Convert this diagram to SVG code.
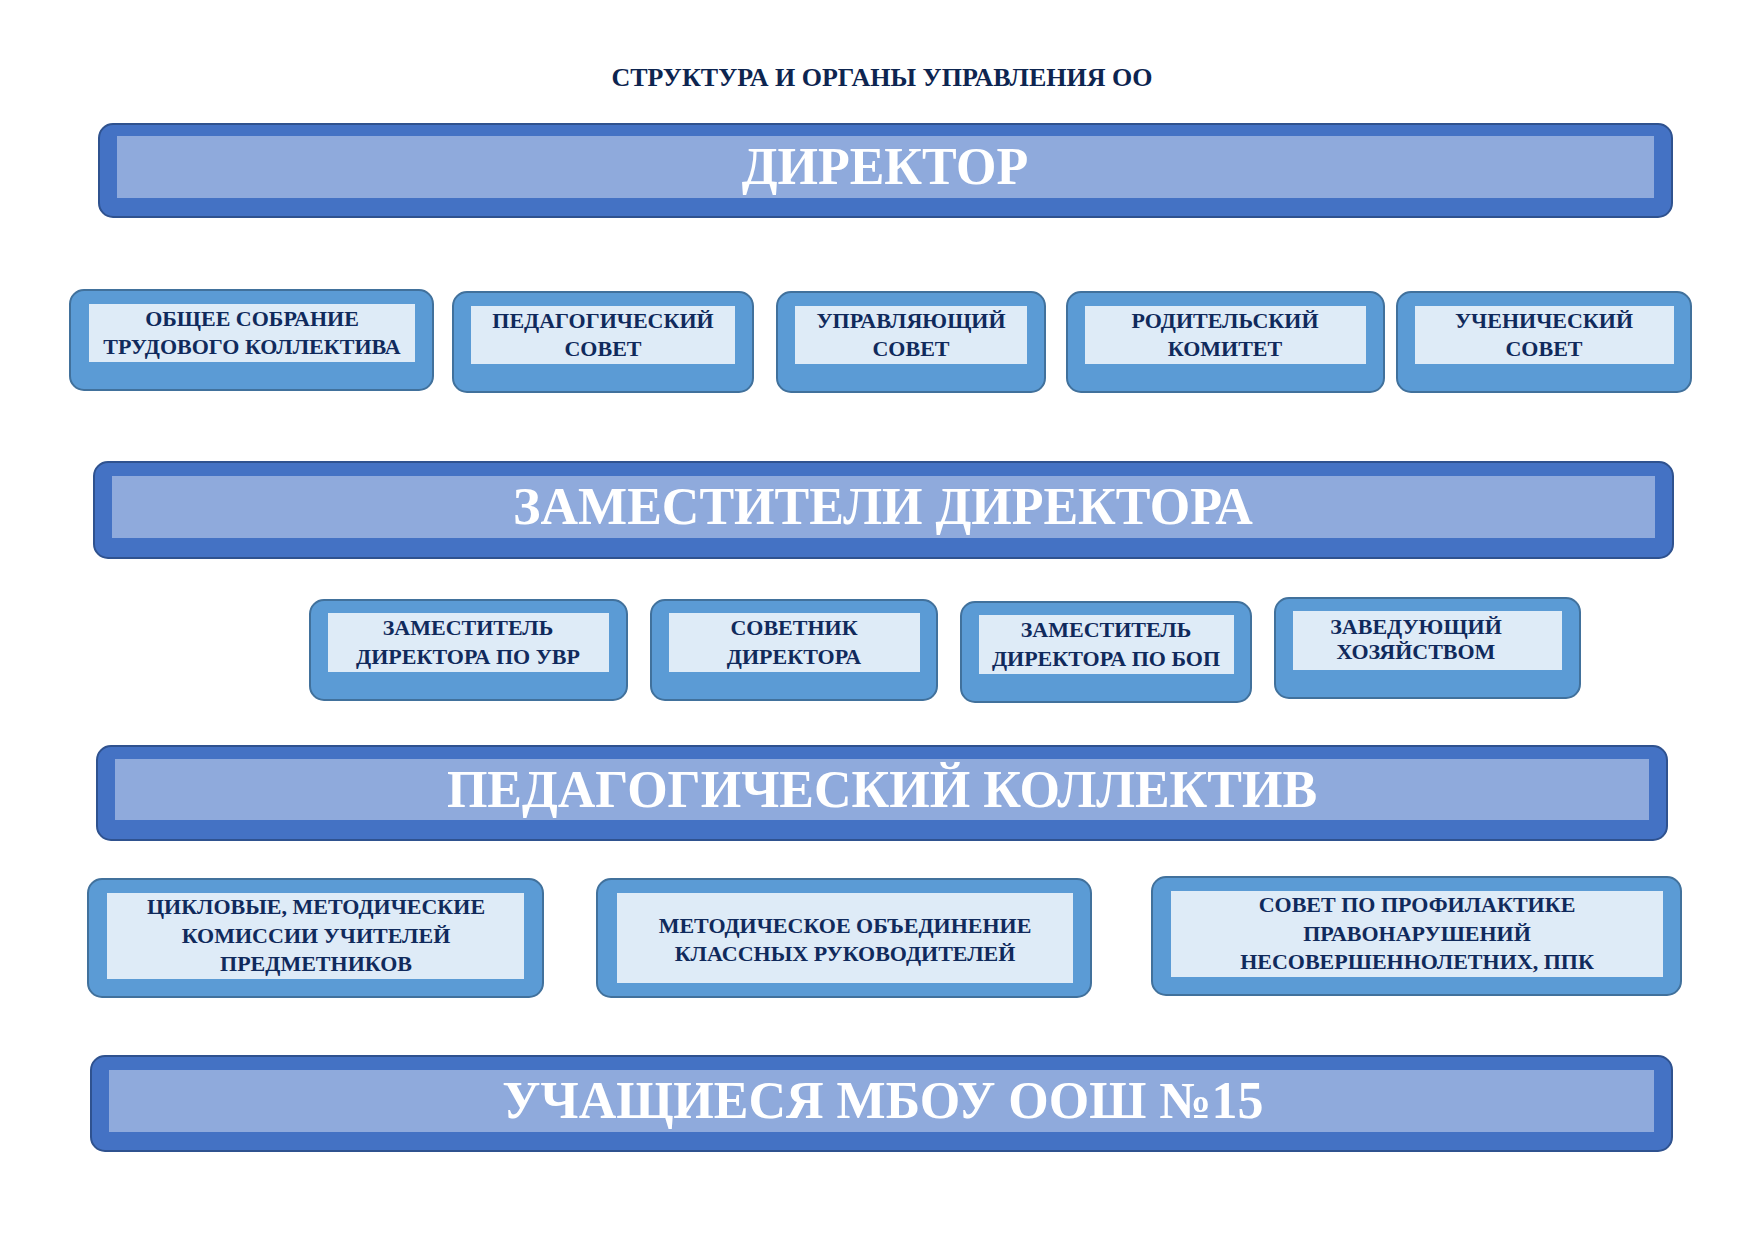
<svg xmlns="http://www.w3.org/2000/svg" width="1755" height="1241" viewBox="0 0 1755 1241">
<style>
.bo{fill:#4472C4;stroke:#2F528F;stroke-width:2}
.bi{fill:#8FAADC}
.bt{font-family:"Liberation Serif",serif;font-weight:bold;font-size:52px;fill:#fff;text-anchor:middle}
.so{fill:#5B9BD5;stroke:#41719C;stroke-width:2}
.si{fill:#DEEBF7}
.st{font-family:"Liberation Serif",serif;font-weight:bold;font-size:22px;fill:#102A5C;text-anchor:middle}
.ti{font-family:"Liberation Serif",serif;font-weight:bold;font-size:26px;fill:#0D2550;text-anchor:middle}
</style>
<rect width="1755" height="1241" fill="#fff"/>
<text class="ti" x="882" y="86">СТРУКТУРА И ОРГАНЫ УПРАВЛЕНИЯ ОО</text>
<g id="director"><rect class="bo" x="99" y="124" width="1573" height="93" rx="14"/><rect class="bi" x="117" y="136" width="1537" height="62"/><text class="bt" x="885" y="184">ДИРЕКТОР</text></g>
<g id="n1"><rect class="so" x="70" y="290" width="363" height="100" rx="14"/><rect class="si" x="89" y="304" width="326" height="58"/><text class="st" x="252" y="326">ОБЩЕЕ СОБРАНИЕ</text><text class="st" x="252" y="354">ТРУДОВОГО КОЛЛЕКТИВА</text></g>
<g id="n2"><rect class="so" x="453" y="292" width="300" height="100" rx="14"/><rect class="si" x="471" y="306" width="264" height="58"/><text class="st" x="603" y="328">ПЕДАГОГИЧЕСКИЙ</text><text class="st" x="603" y="356">СОВЕТ</text></g>
<g id="n3"><rect class="so" x="777" y="292" width="268" height="100" rx="14"/><rect class="si" x="795" y="306" width="232" height="58"/><text class="st" x="911" y="328">УПРАВЛЯЮЩИЙ</text><text class="st" x="911" y="356">СОВЕТ</text></g>
<g id="n4"><rect class="so" x="1067" y="292" width="317" height="100" rx="14"/><rect class="si" x="1085" y="306" width="281" height="58"/><text class="st" x="1225" y="328">РОДИТЕЛЬСКИЙ</text><text class="st" x="1225" y="356">КОМИТЕТ</text></g>
<g id="n5"><rect class="so" x="1397" y="292" width="294" height="100" rx="14"/><rect class="si" x="1415" y="306" width="259" height="58"/><text class="st" x="1544" y="328">УЧЕНИЧЕСКИЙ</text><text class="st" x="1544" y="356">СОВЕТ</text></g>
<g id="deputies"><rect class="bo" x="94" y="462" width="1579" height="96" rx="14"/><rect class="bi" x="112" y="476" width="1543" height="62"/><text class="bt" x="883" y="524">ЗАМЕСТИТЕЛИ ДИРЕКТОРА</text></g>
<g id="d1"><rect class="so" x="310" y="600" width="317" height="100" rx="14"/><rect class="si" x="328" y="613" width="281" height="59"/><text class="st" x="468" y="635">ЗАМЕСТИТЕЛЬ</text><text class="st" x="468" y="664">ДИРЕКТОРА ПО УВР</text></g>
<g id="d2"><rect class="so" x="651" y="600" width="286" height="100" rx="14"/><rect class="si" x="669" y="613" width="251" height="59"/><text class="st" x="794" y="635">СОВЕТНИК</text><text class="st" x="794" y="664">ДИРЕКТОРА</text></g>
<g id="d3"><rect class="so" x="961" y="602" width="290" height="100" rx="14"/><rect class="si" x="979" y="615" width="255" height="59"/><text class="st" x="1106" y="637">ЗАМЕСТИТЕЛЬ</text><text class="st" x="1106" y="666">ДИРЕКТОРА ПО БОП</text></g>
<g id="d4"><rect class="so" x="1275" y="598" width="305" height="100" rx="14"/><rect class="si" x="1293" y="611" width="269" height="59"/><text class="st" x="1416" y="634">ЗАВЕДУЮЩИЙ</text><text class="st" x="1416" y="659">ХОЗЯЙСТВОМ</text></g>
<g id="collective"><rect class="bo" x="97" y="746" width="1570" height="94" rx="14"/><rect class="bi" x="115" y="759" width="1534" height="61"/><text class="bt" x="882" y="807">ПЕДАГОГИЧЕСКИЙ КОЛЛЕКТИВ</text></g>
<g id="c1"><rect class="so" x="88" y="879" width="455" height="118" rx="14"/><rect class="si" x="107" y="893" width="417" height="86"/><text class="st" x="316" y="914">ЦИКЛОВЫЕ, МЕТОДИЧЕСКИЕ</text><text class="st" x="316" y="943">КОМИССИИ УЧИТЕЛЕЙ</text><text class="st" x="316" y="971">ПРЕДМЕТНИКОВ</text></g>
<g id="c2"><rect class="so" x="597" y="879" width="494" height="118" rx="14"/><rect class="si" x="617" y="893" width="456" height="90"/><text class="st" x="845" y="933">МЕТОДИЧЕСКОЕ ОБЪЕДИНЕНИЕ</text><text class="st" x="845" y="961">КЛАССНЫХ РУКОВОДИТЕЛЕЙ</text></g>
<g id="c3"><rect class="so" x="1152" y="877" width="529" height="118" rx="14"/><rect class="si" x="1171" y="891" width="492" height="86"/><text class="st" x="1417" y="912">СОВЕТ ПО ПРОФИЛАКТИКЕ</text><text class="st" x="1417" y="941">ПРАВОНАРУШЕНИЙ</text><text class="st" x="1417" y="969">НЕСОВЕРШЕННОЛЕТНИХ, ППК</text></g>
<g id="students"><rect class="bo" x="91" y="1056" width="1581" height="95" rx="14"/><rect class="bi" x="109" y="1070" width="1545" height="62"/><text class="bt" x="883" y="1118">УЧАЩИЕСЯ МБОУ ООШ №15</text></g>
<g id="connectors"/>
</svg>
